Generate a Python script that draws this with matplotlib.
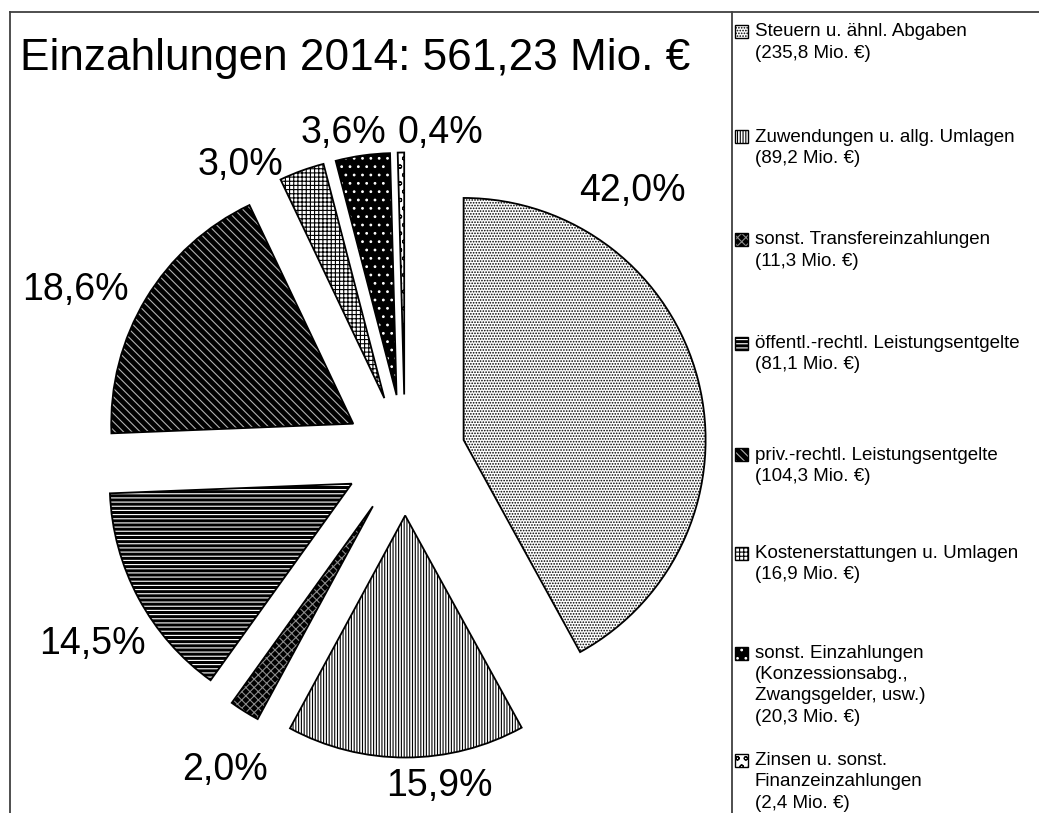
import matplotlib
matplotlib.use('Agg')
import matplotlib.pyplot as plt
from matplotlib.patches import Wedge, Rectangle
from matplotlib.lines import Line2D

plt.rcParams['font.family'] = ['Liberation Sans', 'DejaVu Sans']
plt.rcParams['hatch.linewidth'] = 0.8

# ---------------- data ----------------
title = "Einzahlungen 2014: 561,23 Mio. €"
categories = [
    "Steuern u. ähnl. Abgaben",
    "Zuwendungen u. allg. Umlagen",
    "sonst. Transfereinzahlungen",
    "öffentl.-rechtl. Leistungsentgelte",
    "priv.-rechtl. Leistungsentgelte",
    "Kostenerstattungen u. Umlagen",
    "sonst. Einzahlungen\n(Konzessionsabg.,\nZwangsgelder, usw.)",
    "Zinsen u. sonst.\nFinanzeinzahlungen",
]
values = [235.8, 89.2, 11.3, 81.14, 104.3, 16.9, 20.3, 2.4]

# ---------------- styles / layout ----------------
styles = [  # facecolor, hatch colour, hatch
    ('white', 'black', '......'),
    ('white', 'black', '||||||'),
    ('black', '#8a8a8a', 'xxxx'),
    ('black', 'white', '----'),
    ('black', '#b0b0b0', '\\\\\\\\'),
    ('white', 'black', '++++'),
    ('black', 'white', '..'),
    ('white', 'black', 'oo'),
]
# label positions in pie units (radius = 1)
label_xy = [(0.938, 1.091), (0.140, -1.368), (-0.744, -1.302), (-1.290, -0.780),
            (-1.360, 0.682), (-0.682, 1.198), (-0.256, 1.331), (0.145, 1.331)]
legend_first_line_px = [32, 137, 240, 343, 455, 553, 653, 760]

W, H = 1039, 813
fig = plt.figure(figsize=(W / 100, H / 100), dpi=100)
fig.patch.set_facecolor('white')

def fx(px):
    return px / W

def fy(py):
    return 1 - py / H

# pie axes: centre at (405,455) px, radius 242 px
cx, cy, R = 405, 455, 242
ax = fig.add_axes([0, 0, 1, 1])
wedges, _ = ax.pie(values, startangle=90, counterclock=False,
                   explode=[0.25] * len(values), radius=1)
total = sum(values)
for w, (fc, hc, hatch) in zip(wedges, styles):
    w.set_facecolor(fc)
    w.set_edgecolor(hc)
    w.set_hatch(hatch)
    w.set_linewidth(0)
    ax.add_patch(Wedge(w.center, w.r, w.theta1, w.theta2, fill=False,
                       edgecolor='black', linewidth=1.3, zorder=w.get_zorder() + 1))

for v, (lx, ly) in zip(values, label_xy):
    txt = f"{v / total * 100:.1f}".replace('.', ',') + '%'
    ax.text(lx, ly, txt, ha='center', va='center', fontsize=27, color='black')

ax.set_aspect('auto')
ax.set_xlim(-cx / R, (W - cx) / R)
ax.set_ylim((cy - H) / R, cy / R)
ax.axis('off')

# title
fig.text(fx(20), fy(70), title, fontsize=31.8, ha='left', va='baseline', color='black')

# frame lines
frame_col = '#404040'
fig.add_artist(Line2D([fx(10), 1], [fy(12), fy(12)], color=frame_col, lw=1.3))
fig.add_artist(Line2D([fx(10), fx(10)], [fy(12), 0], color=frame_col, lw=1.3))
fig.add_artist(Line2D([fx(732), fx(732)], [fy(12), 0], color=frame_col, lw=1.3))

# legend
line_h = 21.5
for name, v, (fc, hc, hatch), y0 in zip(categories, values, styles, legend_first_line_px):
    lines = name.split('\n') + [f"({v:.1f} Mio. €)".replace('.', ',', 1)]
    for i, t in enumerate(lines):
        fig.text(fx(755), fy(y0 + i * line_h), t, fontsize=13.5, ha='left', va='center',
                 color='black')
    sq = 13
    fig.add_artist(Rectangle((fx(735), fy(y0 + sq / 2)), sq / W, sq / H,
                             transform=fig.transFigure, facecolor=fc, edgecolor=hc,
                             hatch=hatch, linewidth=0))
    fig.add_artist(Rectangle((fx(735), fy(y0 + sq / 2)), sq / W, sq / H,
                             transform=fig.transFigure, fill=False, edgecolor='black',
                             linewidth=1.0))

fig.savefig('out.png', dpi=100, facecolor='white')
